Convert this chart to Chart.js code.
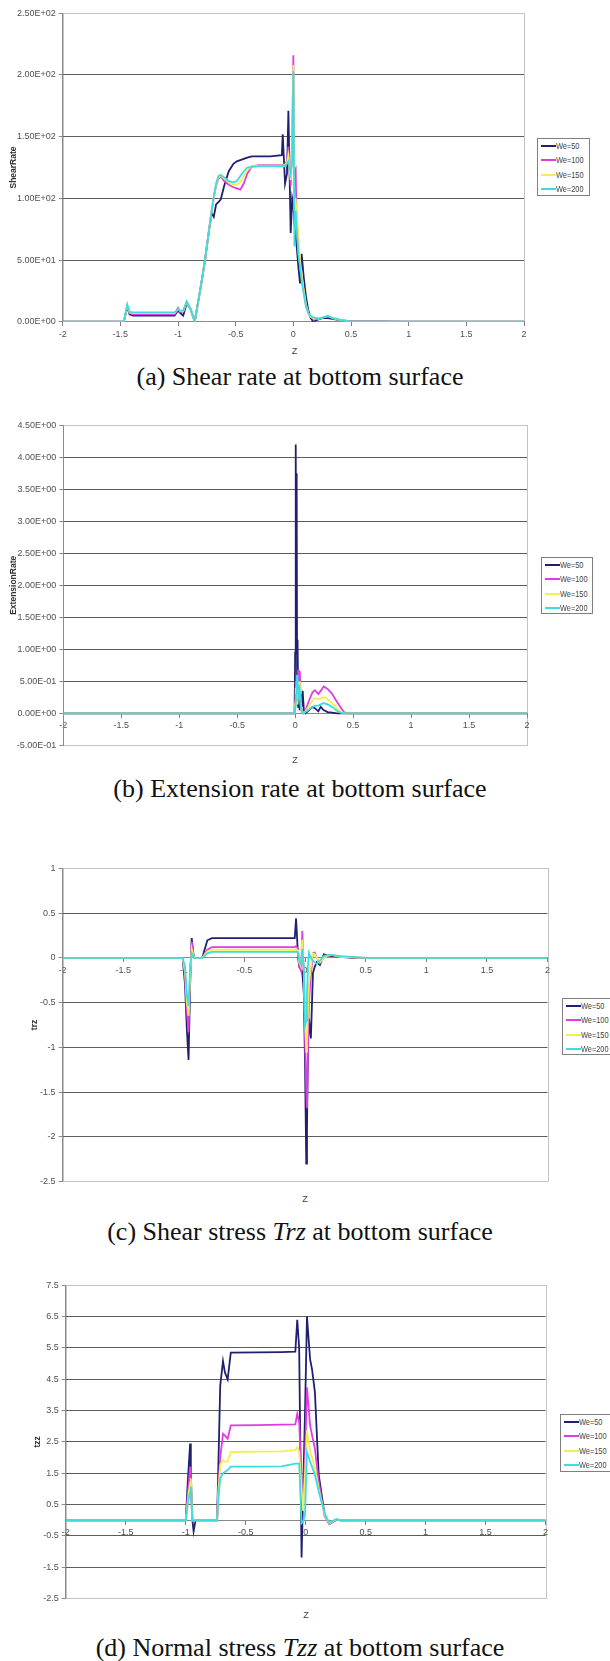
<!DOCTYPE html>
<html>
<head>
<meta charset="utf-8">
<title>Bottom surface profiles</title>
<script src="https://cdn.jsdelivr.net/npm/chart.js@4.4.1/dist/chart.umd.min.js"></script>
<style>
  body { margin: 0; background: #fff; }
  #page { position: relative; width: 610px; height: 1661px; overflow: hidden; background: #fff; }
  #page canvas { position: absolute; left: 0; }
  .caption { position: absolute; left: 0; width: 600px; height: 30px; line-height: 30px; text-align: center;
             font-family: 'Liberation Serif', 'Times New Roman', serif; font-size: 26px; color: #111; white-space: nowrap; }
  .zlabel { position: absolute; width: 20px; margin-left: -10px; text-align: center; height: 12px; line-height: 12px;
            font-family: 'Liberation Sans', Arial, sans-serif; font-size: 9px; color: #444; }
  .legend { position: absolute; box-sizing: border-box; border: 1px solid #808080; background: #fff; }
  .legend .row { position: relative; height: 14.4px; line-height: 14.4px; white-space: nowrap;
                 font-family: 'Liberation Sans', Arial, sans-serif; font-size: 9px; color: #444; }
  .legend .swatch { position: absolute; left: 3px; top: 6px; width: 15px; height: 2px; }
  .legend .txt { position: absolute; left: 18px; top: 0; transform: scaleX(0.82); transform-origin: 0 50%; }
</style>
</head>
<body>
<div id="page"></div>
<script>
/**********
 * DATA
 **********/
var seriesNames = ['We=50', 'We=100', 'We=150', 'We=200'];
var seriesColors = ['#202070', '#e03ce0', '#f2ee55', '#3cdce0'];

var zTicks = [-2, -1.5, -1, -0.5, 0, 0.5, 1, 1.5, 2];

// (a) shear rate
var zA = [-2, -1.47, -1.44, -1.42, -1.39, -1.2, -1.03, -1.0, -0.98, -0.955,
  -0.925, -0.89, -0.855, -0.8, -0.766, -0.73, -0.708, -0.69, -0.67, -0.65,
  -0.63, -0.6, -0.56, -0.52, -0.49, -0.46, -0.43, -0.4, -0.36, -0.3,
  -0.2, -0.1, -0.092, -0.072, -0.055, -0.043, -0.023, -0.01, 0, 0.009,
  0.02, 0.03, 0.043, 0.058, 0.072, 0.09, 0.11, 0.13, 0.15, 0.173,
  0.22, 0.26, 0.3, 0.35, 0.42, 0.5, 1, 2];
var shearWe50 = [0, 0, 12, 6, 5, 5, 5, 9, 7, 5,
  15, 10, 0, 30, 50, 75, 88, 85, 95, 97,
  99, 110, 122, 128, 130, 131, 132, 133, 134, 134,
  134, 135, 152, 112, 120, 171, 72, 100, 95, 80,
  70, 60, 45, 31, 55, 36, 20, 9, 3, 0,
  2, 3, 3, 2, 1, 0.5, 0, 0];
var shearWe100 = [0, 0, 13, 7, 6, 6, 6, 11, 8, 8,
  16, 10, 0, 30, 50, 75, 90, 100, 110, 116,
  118, 114, 111, 109, 108, 107, 112, 120, 126, 127,
  127, 127, 127, 128, 130, 142, 110, 150, 216, 120,
  123, 72, 60, 46, 35, 24, 13, 7, 4, 2.5,
  2, 3.5, 4.5, 2.5, 1, 0, 0, 0];
var shearWe150 = [0, 0, 13, 7.5, 7, 7, 7, 10, 8.5, 8.5,
  16, 10, 0, 30, 50, 75, 90, 101, 111, 117,
  118.5, 116, 113, 111, 111, 113, 118, 123, 126, 126.5,
  126.5, 126.5, 126.5, 127, 129, 135, 115, 140, 208, 90,
  100, 85, 72, 50, 38, 26, 14, 7, 4, 3,
  2.5, 3.5, 4.5, 2.6, 1, 0, 0, 0];
var shearWe200 = [0, 0, 14, 8, 7.5, 7.5, 7.5, 10, 9, 9,
  16.5, 10, 0, 30, 50, 75, 90, 102, 112, 118,
  119, 117, 114, 113, 114, 118, 122, 125, 125.5, 126,
  126, 126, 126, 126, 128, 130, 120, 130, 203, 61,
  90, 75, 55, 44.6, 33, 23, 12, 7, 4.5, 3.5,
  2.7, 3.5, 4.6, 2.8, 1.2, 0, 0, 0];
var shearTicks = [0, 50, 100, 150, 200, 250];

// (b) extension rate
var zB = [-2, -0.005, 0, 0.005, 0.009, 0.013, 0.017, 0.021, 0.026, 0.032,
  0.04, 0.048, 0.056, 0.065, 0.075, 0.09, 0.12, 0.15, 0.17, 0.2,
  0.22, 0.246, 0.28, 0.32, 0.36, 0.39, 0.42, 0.45, 0.5, 2];
var extWe50 = [0, 0, 0.95, 4.2, 1.2, 3.75, 0.3, 1.15, 0.1, 0.2,
  0.05, 0.3, 0.1, 0.35, 0.05, 0, 0.05, 0.1, 0.08, 0.03,
  0.1, 0.05, 0.02, 0.01, 0, 0, 0, 0, 0, 0];
var extWe100 = [0, 0, 0.2, 0.5, 0.3, 0.6, 0.2, 0.4, 0.68, 0.5,
  0.66, 0.2, 0.05, 0, 0, 0.05, 0.2, 0.33, 0.36, 0.3,
  0.35, 0.42, 0.38, 0.3, 0.18, 0.1, 0.02, 0, 0, 0];
var extWe150 = [0, 0, 0.15, 0.4, 0.25, 0.5, 0.15, 0.35, 0.5, 0.4,
  0.5, 0.15, 0.03, 0, 0, 0.03, 0.12, 0.2, 0.24, 0.22,
  0.24, 0.25, 0.22, 0.16, 0.08, 0.03, 0, 0, 0, 0];
var extWe200 = [0, 0, 0.1, 0.3, 0.2, 0.45, 0.6, 0.3, 0.45, 0.3,
  0.35, 0.1, 0.02, 0, 0, 0.02, 0.06, 0.1, 0.12, 0.12,
  0.14, 0.16, 0.14, 0.1, 0.04, 0.01, 0, 0, 0, 0];
var extTicks = [-0.5, 0, 0.5, 1, 1.5, 2, 2.5, 3, 3.5, 4, 4.5];

// (c) shear stress trz
var zC = [-2, -1.01, -0.99, -0.975, -0.961, -0.948, -0.935, -0.922, -0.913, -0.848,
  -0.806, -0.768, -0.5, -0.2, -0.085, -0.074, -0.058, -0.048, -0.032, -0.023,
  -0.01, 0, 0.01, 0.016, 0.024, 0.032, 0.048, 0.065, 0.08, 0.097,
  0.123, 0.155, 0.194, 0.226, 0.29, 0.387, 0.5, 2];
var trzWe50 = [0, 0, -0.3, -0.8, -1.14, -0.3, 0.22, 0.05, 0, 0,
  0.196, 0.22, 0.22, 0.22, 0.22, 0.44, 0.02, -0.1, -0.13, -0.15,
  -0.4, -1.2, -2.3, -1.9, -1.0, -0.68, -0.9, -0.17, -0.1, -0.05,
  -0.08, 0.04, 0.025, 0.02, 0.01, 0, 0, 0];
var trzWe100 = [0, 0, -0.2, -0.6, -0.83, -0.2, 0.18, 0.05, 0, 0,
  0.09, 0.12, 0.12, 0.12, 0.12, 0.13, 0.1, -0.1, -0.15, 0.3,
  -0.2, -0.9, -1.5, -1.68, -1.0, -0.5, -0.2, 0.055, 0.06, 0,
  -0.06, 0, 0.03, 0.03, 0.01, 0.005, 0, 0];
var trzWe150 = [0, 0, -0.15, -0.5, -0.65, -0.2, 0.1, 0.03, 0, 0,
  0.07, 0.09, 0.09, 0.09, 0.09, 0.1, 0.08, -0.05, -0.1, 0.2,
  -0.15, -0.7, -1.05, -0.95, -0.6, -0.3, -0.1, 0.05, 0.04, 0,
  -0.05, 0, 0.03, 0.03, 0.01, 0.005, 0, 0];
var trzWe200 = [0, 0, -0.1, -0.4, -0.54, -0.1, 0.05, 0.02, 0, 0,
  0.05, 0.066, 0.066, 0.066, 0.066, 0.07, 0.06, -0.03, -0.08, 0.1,
  -0.1, -0.76, -0.7, -0.4, -0.1, 0.055, 0, -0.03, -0.05, -0.07,
  -0.03, 0.02, 0.035, 0.03, 0.02, 0.01, 0, 0];
var trzTicks = [-2.5, -2, -1.5, -1, -0.5, 0, 0.5, 1];

// (d) normal stress tzz
var zD = [-2, -0.999, -0.983, -0.963, -0.957, -0.944, -0.934, -0.918, -0.738, -0.729,
  -0.712, -0.689, -0.673, -0.65, -0.624, -0.4, -0.2, -0.086, -0.07, -0.054,
  -0.034, -0.021, -0.005, 0.011, 0.037, 0.054, 0.077, 0.109, 0.158, 0.197,
  0.256, 0.289, 2];
var tzzWe50 = [0, 0, 1.2, 2.45, 1.5, 0, -0.35, 0, 0, 1.5,
  4.3, 5.08, 4.72, 4.5, 5.35, 5.36, 5.37, 5.38, 6.4, 5.5,
  -1.19, 0.9, 3.5, 6.5, 5.14, 4.8, 4.1, 1.45, 0.18, -0.12,
  0.02, 0, 0];
var tzzWe100 = [0, 0, 0.8, 1.71, 1.0, 0, -0.05, 0, 0, 1.0,
  2.0, 2.76, 2.7, 2.6, 3.03, 3.04, 3.05, 3.06, 3.4, 3.13,
  1.34, 0.5, 2.0, 4.24, 3.03, 2.7, 2.29, 1.23, 0.13, -0.12,
  0.02, 0, 0];
var tzzWe150 = [0, 0, 0.6, 1.2, 1.34, 0, 0, 0, 0, 0.8,
  1.76, 1.92, 1.87, 1.87, 2.18, 2.19, 2.2, 2.24, 2.34, 2.2,
  1.0, 0.3, 1.5, 2.87, 2.2, 2.0, 1.66, 1.0, 0.18, -0.1,
  0.03, 0, 0];
var tzzWe200 = [0, 0, 0.5, 0.9, 1.08, 0, 0, 0, 0, 0.6,
  1.34, 1.5, 1.55, 1.6, 1.71, 1.71, 1.72, 1.81, 1.81, 1.81,
  -0.1, -0.05, 0.2, 2.18, 1.87, 1.7, 1.45, 0.92, 0.23, -0.08,
  0.04, 0, 0];
var tzzTicks = [-2.5, -1.5, -0.5, 0.5, 1.5, 2.5, 3.5, 4.5, 5.5, 6.5, 7.5];

/**********
 * HELPERS
 **********/
var tickFont = "'Liberation Sans Narrow', 'Liberation Sans', Arial, sans-serif";

// 250 -> "2.50E+02"
function expFmt(v) {
  return v.toExponential(2).toUpperCase().replace(/E([+-])(\d)$/, 'E$10$2');
}

function zip(xs, ys) {
  return xs.map(function (x, i) { return {x: x, y: ys[i]}; });
}

// light grey frame round the plot area, drawn under grid and lines
var plotFrame = {
  id: 'plotFrame',
  beforeDraw: function (chart) {
    var a = chart.chartArea, ctx = chart.ctx;
    ctx.save();
    ctx.strokeStyle = '#c4c4c4';
    ctx.lineWidth = 1;
    ctx.strokeRect(Math.round(a.left) + 0.5, Math.round(a.top) + 0.5,
      Math.round(a.right - a.left), Math.round(a.bottom - a.top));
    ctx.restore();
  }
};

function addDiv(cls, html, css) {
  var d = document.createElement('div');
  d.className = cls;
  d.innerHTML = html;
  Object.assign(d.style, css);
  document.getElementById('page').appendChild(d);
  return d;
}

function addLegend(box) {
  var lg = addDiv('legend', '', {left: box.l + 'px', top: box.t + 'px', width: box.w + 'px', height: box.h + 'px'});
  seriesNames.forEach(function (name, i) {
    var row = document.createElement('div');
    row.className = 'row';
    row.innerHTML = '<span class="swatch" style="background:' + seriesColors[i] + '"></span><span class="txt">' + name + '</span>';
    lg.appendChild(row);
  });
}

/**********
 * CHARTS
 **********/
function buildChart(spec) {
  var canvas = document.createElement('canvas');
  canvas.width = 610;
  canvas.height = spec.ch;
  canvas.style.top = spec.ct + 'px';
  document.getElementById('page').appendChild(canvas);

  var yMin = spec.yTicks[0], yMax = spec.yTicks[spec.yTicks.length - 1];
  var datasets = spec.series.map(function (ys, i) {
    return {
      label: seriesNames[i],
      data: zip(spec.z, ys),
      borderColor: seriesColors[i],
      borderWidth: 1.8,
      pointRadius: 0,
      tension: 0,
      fill: false,
      order: 3 - i
    };
  });

  new Chart(canvas.getContext('2d'), {
    type: 'line',
    data: {datasets: datasets},
    plugins: [plotFrame],
    options: {
      responsive: false,
      animation: false,
      events: [],
      layout: {padding: {left: 0, top: spec.plot.t - spec.ct, right: 610 - spec.plot.r,
        bottom: spec.ct + spec.ch - spec.plot.b}},
      plugins: {legend: {display: false}, tooltip: {enabled: false}},
      scales: {
        x: {
          type: 'linear',
          position: {y: 0},
          min: -2, max: 2,
          afterBuildTicks: function (s) { s.ticks = zTicks.map(function (v) { return {value: v}; }); },
          ticks: {callback: function (v) { return String(v); }, font: {family: tickFont, size: 9},
            color: '#505050', padding: 3, maxRotation: 0, autoSkip: false},
          grid: {drawOnChartArea: false, drawTicks: true, tickLength: 4, color: '#808080'},
          border: {color: '#8a8a8a', width: 1}
        },
        y: {
          type: 'linear',
          position: 'left',
          min: yMin, max: yMax,
          afterBuildTicks: function (s) { s.ticks = spec.yTicks.map(function (v) { return {value: v}; }); },
          afterFit: function (s) { s.width = spec.plot.l; },
          ticks: {callback: spec.yFmt, font: {family: tickFont, size: 9}, color: '#505050', padding: 3, autoSkip: false},
          grid: {
            color: function (c) {
              var v = c.tick ? c.tick.value : null;
              return (v === yMin || v === yMax) ? 'rgba(0,0,0,0)' : '#5c5c5c';
            },
            tickColor: '#8a8a8a', tickLength: 4, lineWidth: 1
          },
          border: {color: '#8a8a8a', width: 1},
          title: {display: true, text: spec.yTitle, color: '#333',
            font: {family: "'Liberation Sans', Arial, sans-serif", size: 8.5, weight: 'bold'},
            padding: {top: spec.titlePad, bottom: 0}}
        }
      }
    }
  });

  addLegend(spec.legend);
  addDiv('zlabel', 'Z', {left: spec.zPos[0] + 'px', top: (spec.zPos[1] - 6) + 'px'});
  addDiv('caption', spec.caption, {top: (spec.capY - 15) + 'px'});
}

var specs = [
  {ct: 0, ch: 345, plot: {l: 62.7, t: 13.3, r: 524, b: 321.7},
    z: zA, series: [shearWe50, shearWe100, shearWe150, shearWe200], yTicks: shearTicks, yFmt: expFmt,
    yTitle: 'ShearRate', titlePad: 8.6, legend: {l: 537, t: 138, w: 53, h: 58},
    zPos: [294.5, 350.7], caption: '(a) Shear rate at bottom surface', capY: 376.7},
  {ct: 400, ch: 355, plot: {l: 63.3, t: 425.3, r: 527, b: 745.3},
    z: zB, series: [extWe50, extWe100, extWe150, extWe200], yTicks: extTicks, yFmt: expFmt,
    yTitle: 'ExtensionRate', titlePad: 9, legend: {l: 541, t: 557, w: 52, h: 57},
    zPos: [295, 760], caption: '(b) Extension rate at bottom surface', capY: 789},
  {ct: 845, ch: 345, plot: {l: 62.6, t: 868.3, r: 547.5, b: 1184.5},
    z: zC, series: [trzWe50, trzWe100, trzWe150, trzWe200], yTicks: trzTicks, yFmt: function (v) { return String(v); },
    yTitle: 'trz', titlePad: 29.6, legend: {l: 562, t: 998, w: 52, h: 57},
    zPos: [305, 1199], caption: '(c) Shear stress <i>Trz</i> at bottom surface', capY: 1231.7},
  {ct: 1262, ch: 345, plot: {l: 65.7, t: 1285.3, r: 545.6, b: 1601.3},
    z: zD, series: [tzzWe50, tzzWe100, tzzWe150, tzzWe200], yTicks: tzzTicks, yFmt: function (v) { return String(v); },
    yTitle: 'tzz', titlePad: 32.6, legend: {l: 560, t: 1414, w: 52, h: 58},
    zPos: [306, 1615], caption: '(d) Normal stress <i>Tzz</i> at bottom surface', capY: 1648}
];

specs.forEach(buildChart);
</script>
</body>
</html>
